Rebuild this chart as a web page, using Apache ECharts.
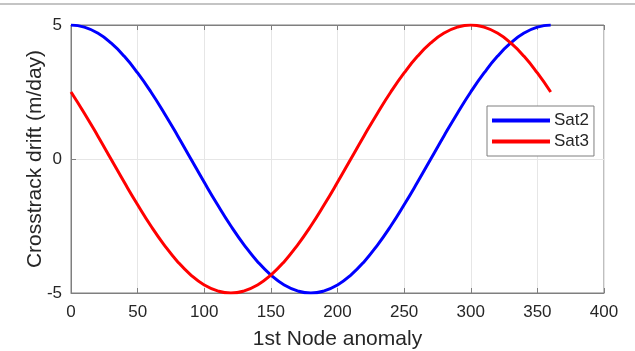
<!DOCTYPE html>
<html>
<head>
<meta charset="utf-8">
<script src="https://cdn.jsdelivr.net/npm/echarts@6/dist/echarts.min.js"></script>
<style>
  html, body { margin: 0; padding: 0; background: #fff; }
  #chart { width: 635px; height: 351px; }
</style>
</head>
<body>
<div id="chart"></div>
<script>
// node anomaly (deg), read every 10 deg
const anomaly = [0, 10, 20, 30, 40, 50, 60, 70, 80, 90, 100, 110, 120, 130, 140, 150, 160, 170, 180,
  190, 200, 210, 220, 230, 240, 250, 260, 270, 280, 290, 300, 310, 320, 330, 340, 350, 360];

const sat2 = [5, 4.92, 4.7, 4.33, 3.83, 3.21, 2.5, 1.71, 0.87, 0, -0.87, -1.71, -2.5, -3.21, -3.83, -4.33, -4.7, -4.92, -5,
  -4.92, -4.7, -4.33, -3.83, -3.21, -2.5, -1.71, -0.87, 0, 0.87, 1.71, 2.5, 3.21, 3.83, 4.33, 4.7, 4.92, 5];

const sat3 = [2.5, 1.71, 0.87, 0, -0.87, -1.71, -2.5, -3.21, -3.83, -4.33, -4.7, -4.92, -5, -4.92, -4.7, -4.33, -3.83, -3.21, -2.5,
  -1.71, -0.87, 0, 0.87, 1.71, 2.5, 3.21, 3.83, 4.33, 4.7, 4.92, 5, 4.92, 4.7, 4.33, 3.83, 3.21, 2.5];

const xTicks = [0, 50, 100, 150, 200, 250, 300, 350, 400];
const yTicks = [-5, 0, 5];

const font = 'Liberation Sans, Arial, sans-serif';
const chart = echarts.init(document.getElementById('chart'));

const pairs = arr => anomaly.map((x, i) => [x, arr[i]]);

const xCommon = {
  type: 'value',
  min: xTicks[0],
  max: xTicks[xTicks.length - 1],
  interval: 50,
  axisLine: { show: true, onZero: false, lineStyle: { color: '#7f7f7f', width: 1 } },
  axisTick: { show: true, inside: true, length: 5, lineStyle: { color: '#7f7f7f' } }
};

chart.setOption({
  animation: false,
  backgroundColor: '#fff',
  grid: {
    left: 71, right: 31, top: 25, bottom: 58,
    outerBoundsMode: 'none', containLabel: false,
    show: true, borderColor: '#7f7f7f', borderWidth: 1
  },
  graphic: [{
    type: 'rect', left: 0, top: 3, shape: { width: 635, height: 2 },
    style: { fill: '#c4c4c4' }, silent: true
  }],
  legend: {
    orient: 'vertical',
    left: 487, top: 106,
    padding: [6, 5, 6, 5],
    itemGap: 4,
    itemWidth: 58, itemHeight: 4,
    backgroundColor: '#fff',
    borderColor: '#7f7f7f', borderWidth: 1, borderRadius: 0,
    icon: 'rect',
    textStyle: { fontFamily: font, fontSize: 17, color: '#262626', padding: [0, 0, 0, -1] },
    data: ['Sat2', 'Sat3']
  },
  xAxis: [
    Object.assign({}, xCommon, {
      position: 'bottom',
      name: '1st Node anomaly',
      nameLocation: 'middle',
      nameGap: 36,
      nameMoveOverlap: false,
      nameTextStyle: { fontFamily: font, fontSize: 21, color: '#262626' },
      axisLabel: { fontFamily: font, fontSize: 17, color: '#262626', margin: 11 },
      splitLine: { show: true, lineStyle: { color: '#e6e6e6' } }
    }),
    Object.assign({}, xCommon, {
      position: 'top',
      axisLabel: { show: false },
      splitLine: { show: false }
    })
  ],
  yAxis: {
    type: 'value',
    min: yTicks[0],
    max: yTicks[yTicks.length - 1],
    interval: 5,
    name: 'Crosstrack drift (m/day)',
    nameLocation: 'middle',
    nameGap: 25,
    nameMoveOverlap: false,
    nameTextStyle: { fontFamily: font, fontSize: 21, color: '#262626' },
    axisLine: { show: true, onZero: false, lineStyle: { color: '#7f7f7f' } },
    axisTick: { show: true, inside: true, length: 5, lineStyle: { color: '#7f7f7f' } },
    axisLabel: { fontFamily: font, fontSize: 17, color: '#262626', margin: 9 },
    splitLine: { show: true, lineStyle: { color: '#e6e6e6' } }
  },
  series: [
    {
      name: 'Sat2', type: 'line', data: pairs(sat2), smooth: true, showSymbol: false,
      lineStyle: { color: '#0000ff', width: 3 }, itemStyle: { color: '#0000ff' }
    },
    {
      name: 'Sat3', type: 'line', data: pairs(sat3), smooth: true, showSymbol: false,
      lineStyle: { color: '#ff0000', width: 3 }, itemStyle: { color: '#ff0000' }
    }
  ]
});
</script>
</body>
</html>
